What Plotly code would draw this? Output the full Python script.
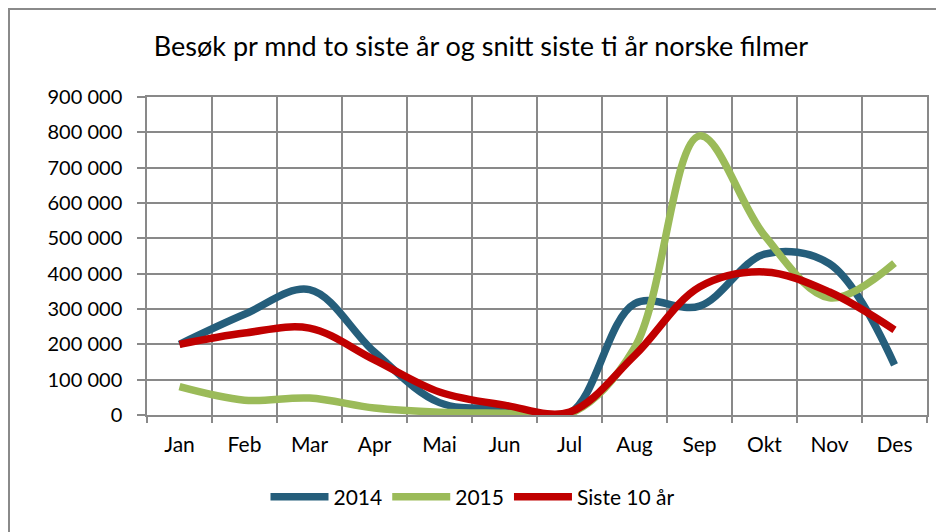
import plotly.graph_objects as go

months = ["Jan", "Feb", "Mar", "Apr", "Mai", "Jun", "Jul", "Aug", "Sep", "Okt", "Nov", "Des"]
v2014 = [200000, 285000, 355000, 178000, 35000, 18000, 5000, 315000, 308000, 455000, 428000, 142000]
v2015 = [80000, 42000, 48000, 20000, 8000, 5000, 3000, 190000, 790000, 508000, 332000, 430000]
v10 = [200000, 232000, 246000, 156000, 65000, 28000, 8000, 168000, 362000, 405000, 348000, 241000]

series = [("2014", v2014, "#255E7B"), ("2015", v2015, "#9BBB59"), ("Siste 10 år", v10, "#C00000")]

fig = go.Figure()
for name, vals, col in series:
    fig.add_trace(go.Scatter(x=months, y=vals, name=name, mode="lines",
                             line=dict(color=col, width=7.5, shape="spline", smoothing=1.0)))

# page body has an 8px margin, so the figure is drawn 8px in from the window edge
W, H = 936, 524
L, T, R, B = 139, 89, 919, 407
pw, ph = R - L, B - T

grid = "#898989"
fig.update_layout(
    width=W, height=H,
    margin=dict(l=L, r=W - R, t=T, b=H - B),
    paper_bgcolor="white", plot_bgcolor="white",
    separators=", ",
    font=dict(family="Lato, Carlito, Liberation Sans", size=21, color="black"),
    title=dict(text="Besøk pr mnd to siste år og snitt siste ti år norske filmer",
               x=473 / W, xanchor="center", y=1 - 39 / H, yanchor="middle",
               font=dict(size=27, color="black")),
    showlegend=True,
    legend=dict(orientation="h", x=(473 - 8 - L) / pw, xanchor="center",
                y=(B - 489) / ph, yanchor="middle",
                font=dict(size=21), itemwidth=58, tracegroupgap=0),
    xaxis=dict(type="category", range=[-0.5, 11.5], tickson="boundaries",
               showgrid=True, gridcolor=grid, gridwidth=1.5,
               ticks="outside", ticklen=6, tickcolor=grid, tickwidth=1.5,
               showline=True, linecolor=grid, linewidth=1.5, mirror=True,
               ticklabelstandoff=10, tickfont=dict(size=21)),
    yaxis=dict(range=[0, 900000], dtick=100000, tickformat=",d",
               showgrid=True, gridcolor=grid, gridwidth=1.5,
               ticks="outside", ticklen=8, tickcolor=grid, tickwidth=1.5,
               showline=True, linecolor=grid, linewidth=1.5, mirror=True,
               ticklabelstandoff=11,
               zeroline=False, tickfont=dict(size=20)),
    shapes=[dict(type="rect", xref="paper", yref="paper",
                 x0=(1 - L) / pw, x1=(W + 20 - L) / pw,
                 y0=(B - H - 20) / ph, y1=(B - 1) / ph,
                 line=dict(color="#8a8a8a", width=2), fillcolor="rgba(0,0,0,0)", layer="below")],
)

fig.write_html("out.html")
